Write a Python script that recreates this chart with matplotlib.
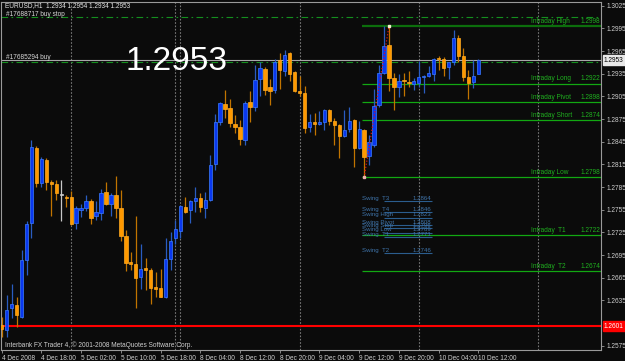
import matplotlib
matplotlib.use("Agg")
import matplotlib.pyplot as plt
import matplotlib.transforms as mtransforms
from matplotlib import font_manager
import numpy as np

# ---------------- data ----------------
opens = [1.2603, 1.2596, 1.2625, 1.2629, 1.2613, 1.2688, 1.2737, 1.2836, 1.2790, 1.2821,
         1.2791, 1.2789, 1.2775, 1.2772, 1.2772, 1.2738, 1.2755, 1.2757, 1.2767, 1.2746,
         1.2751, 1.2778, 1.2762, 1.2774, 1.2757, 1.2720, 1.2686, 1.2683, 1.2666, 1.2678,
         1.2675, 1.2653, 1.2651, 1.2639, 1.2690, 1.2718, 1.2727, 1.2759, 1.2754, 1.2767,
         1.2771, 1.2757, 1.2768, 1.2815, 1.2871, 1.2895, 1.2889, 1.2869, 1.2865, 1.2847,
         1.2898, 1.2891, 1.2928, 1.2941, 1.2917, 1.2914, 1.2953, 1.2939, 1.2963, 1.2937,
         1.2912, 1.2910, 1.2864, 1.2871, 1.2868, 1.2871, 1.2887, 1.2872, 1.2867, 1.2853,
         1.2862, 1.2874, 1.2836, 1.2860, 1.2826, 1.2841, 1.2894, 1.2936, 1.2973, 1.2929,
         1.2918, 1.2927, 1.2924, 1.2921, 1.2923, 1.2930, 1.2932, 1.2935, 1.2955, 1.2955,
         1.2944, 1.2950, 1.2982, 1.2958, 1.2931, 1.2924, 1.2934]
highs = [1.2613, 1.2642, 1.2657, 1.2640, 1.2701, 1.2740, 1.2847, 1.2839, 1.2825, 1.2824,
         1.2794, 1.2794, 1.2794, 1.2774, 1.2780, 1.2760, 1.2763, 1.2774, 1.2769, 1.2766,
         1.2782, 1.2791, 1.2777, 1.2799, 1.2781, 1.2728, 1.2699, 1.2746, 1.2710, 1.2691,
         1.2678, 1.2672, 1.2677, 1.2717, 1.2726, 1.2741, 1.2761, 1.2772, 1.2768, 1.2785,
         1.2777, 1.2778, 1.2828, 1.2881, 1.2898, 1.2914, 1.2902, 1.2880, 1.2874, 1.2899,
         1.2912, 1.2947, 1.2951, 1.2944, 1.2928, 1.2955, 1.2963, 1.2966, 1.2964, 1.2938,
         1.2932, 1.2919, 1.2882, 1.2883, 1.2885, 1.2888, 1.2888, 1.2877, 1.2869, 1.2887,
         1.2891, 1.2875, 1.2873, 1.2862, 1.2854, 1.2915, 1.2947, 1.2998, 1.2998, 1.2936,
         1.2934, 1.2936, 1.2938, 1.2929, 1.2952, 1.2933, 1.2945, 1.2956, 1.2958, 1.2957,
         1.2951, 1.2993, 1.2986, 1.2969, 1.2940, 1.2953, 1.2954]
lows = [1.2587, 1.2587, 1.2612, 1.2600, 1.2612, 1.2669, 1.2717, 1.2785, 1.2785, 1.2781,
        1.2746, 1.2768, 1.2740, 1.2758, 1.2735, 1.2730, 1.2745, 1.2753, 1.2736, 1.2742,
        1.2742, 1.2761, 1.2747, 1.2744, 1.2714, 1.2674, 1.2675, 1.2625, 1.2650, 1.2649,
        1.2630, 1.2639, 1.2639, 1.2638, 1.2675, 1.2710, 1.2718, 1.2750, 1.2738, 1.2752,
        1.2752, 1.2744, 1.2767, 1.2808, 1.2867, 1.2877, 1.2864, 1.2857, 1.2841, 1.2841,
        1.2871, 1.2885, 1.2905, 1.2907, 1.2894, 1.2910, 1.2915, 1.2932, 1.2926, 1.2911,
        1.2905, 1.2857, 1.2858, 1.2854, 1.2867, 1.2860, 1.2867, 1.2841, 1.2824, 1.2851,
        1.2858, 1.2811, 1.2835, 1.2798, 1.2814, 1.2838, 1.2891, 1.2934, 1.2912, 1.2887,
        1.2904, 1.2905, 1.2918, 1.2913, 1.2917, 1.2910, 1.2931, 1.2926, 1.2940, 1.2932,
        1.2928, 1.2947, 1.2951, 1.2925, 1.2902, 1.2916, 1.2934]
closes = [1.2597, 1.2622, 1.2630, 1.2615, 1.2689, 1.2736, 1.2838, 1.2790, 1.2822, 1.2792,
          1.2789, 1.2777, 1.2775, 1.2770, 1.2736, 1.2757, 1.2757, 1.2766, 1.2744, 1.2752,
          1.2777, 1.2763, 1.2774, 1.2757, 1.2720, 1.2685, 1.2683, 1.2665, 1.2677, 1.2675,
          1.2652, 1.2650, 1.2639, 1.2690, 1.2714, 1.2729, 1.2760, 1.2752, 1.2767, 1.2771,
          1.2758, 1.2768, 1.2814, 1.2871, 1.2896, 1.2888, 1.2870, 1.2864, 1.2848, 1.2896,
          1.2891, 1.2927, 1.2942, 1.2914, 1.2912, 1.2951, 1.2940, 1.2960, 1.2935, 1.2912,
          1.2910, 1.2863, 1.2871, 1.2868, 1.2871, 1.2887, 1.2873, 1.2867, 1.2853, 1.2860,
          1.2872, 1.2836, 1.2862, 1.2825, 1.2844, 1.2892, 1.2936, 1.2972, 1.2929, 1.2917,
          1.2926, 1.2925, 1.2923, 1.2926, 1.2930, 1.2932, 1.2936, 1.2955, 1.2954, 1.2943,
          1.2950, 1.2982, 1.2958, 1.2931, 1.2923, 1.2932, 1.2953]

time_tick_bars = [0, 8, 16, 24, 32, 40, 48, 56, 64, 72, 80, 88, 96]
time_tick_labels = ["4 Dec 2008", "4 Dec 18:00", "5 Dec 02:00", "5 Dec 10:00", "5 Dec 18:00",
                    "8 Dec 04:00", "8 Dec 12:00", "8 Dec 20:00", "9 Dec 04:00", "9 Dec 12:00",
                    "9 Dec 20:00", "10 Dec 04:00", "10 Dec 12:00"]
price_ticks = [1.3025, 1.2995, 1.2965, 1.2935, 1.2905, 1.2875, 1.2845, 1.2815, 1.2785,
               1.2755, 1.2725, 1.2695, 1.2665, 1.2635, 1.2575]
separator_bars = [14, 35, 36, 60, 84, 108]

level_names = ["Intraday High", "Intraday Long", "Intraday Pivot", "Intraday Short",
               "Intraday Low", "Intraday  T1", "Intraday  T2"]
level_values = [1.2998, 1.2922, 1.2898, 1.2874, 1.2798, 1.2722, 1.2674]

swing_names = ["Swing  T3", "Swing  T4", "Swing High", "Swing Pivot", "Swing Stop",
               "Swing Low", "Swing  T1", "Swing  T2"]
swing_values = ["1.2864", "1.2846", "1.2823", "1.2808", "1.2796", "1.2789", "1.2771", "1.2746"]
swing_y = [1.2767, 1.2752, 1.2745, 1.2735, 1.2731, 1.2725, 1.2719, 1.2698]

bid = 1.2953
buy_stop = 1.30105
buy_price = 1.2950
red_level = 1.2601
zig_bars = [73, 78]
zig_prices = [1.2798, 1.2998]

# ---------------- fonts ----------------
available = {f.name for f in font_manager.fontManager.ttflist}
if "Liberation Sans Narrow" in available:
    SMALL = "Liberation Sans Narrow"
    SZ = 5.6
else:
    SMALL = "Liberation Sans"
    SZ = 4.7

# ---------------- figure ----------------
BG = "#0b0b0b"
fig = plt.figure(figsize=(6.25, 3.61), dpi=100, facecolor=BG)
ax = fig.add_axes([1.5 / 625, 1 - 350 / 361, (601 - 1.5) / 625, (350 - 2) / 361])
ax.set_facecolor(BG)
ax.set_xlim(-0.04, 120.7)
ax.set_ylim(1.25693, 1.30299)

for s in ax.spines.values():
    s.set_color("#9a9a9a")
    s.set_linewidth(0.8)

# period separators
for b in separator_bars:
    ax.axvline(b, color="#777777", lw=0.8, ls=(0, (1.5, 1.5)), zorder=1)

# order lines
ax.axhline(buy_stop, color="#14901e", lw=0.8, ls=(0, (6, 3, 1.5, 3)), zorder=1)
ax.axhline(bid, color="#a8a8a8", lw=0.8, zorder=1)
ax.axhline(buy_price, color="#14901e", lw=0.8, ls=(0, (6, 3, 1.5, 3)), zorder=1)
ax.axhline(red_level, color="#ff0000", lw=1.5, zorder=2)

# intraday levels
for name, v in zip(level_names, level_values):
    col = "#0c6e0c" if name == "Intraday High" else "#12a812"
    lw = 1.6 if name == "Intraday High" else 0.9
    ax.hlines(v, 72.6, 120.7, color=col, lw=lw, zorder=2)
    ax.annotate(name, xy=(106.6, v), xytext=(0, 0.8), textcoords="offset points",
                color="#1fb01f", fontsize=SZ, family=SMALL, va="bottom", ha="left", zorder=3)
    ax.annotate(f"{v:.4f}", xy=(120.5, v), xytext=(0, 0.8), textcoords="offset points",
                color="#1fb01f", fontsize=SZ, family=SMALL, va="bottom", ha="right", zorder=3)

# swing labels (overlapping stack as in the source terminal)
for name, val, y in zip(swing_names, swing_values, swing_y):
    ax.text(72.6, y, name, color="#3f74aa", fontsize=SZ - 0.3, family=SMALL,
            va="bottom", ha="left", zorder=3)
    ax.text(86.5, y, val, color="#3f74aa", fontsize=SZ - 0.3, family=SMALL,
            va="bottom", ha="right", zorder=3)
    ax.hlines(y - 0.00005, 77.0, 86.7, color="#2b5d8e", lw=0.8, zorder=3)

# candles
o = np.array(opens); h = np.array(highs); l = np.array(lows); c = np.array(closes)
x = np.arange(len(o))
bull = c > o
bear = c < o
doji = c == o
wick_col = np.where(bull, "#2a5cc0", np.where(bear, "#c27400", "#c8c8c8"))
ax.vlines(x, l, h, colors=wick_col, lw=0.9, zorder=4)
minh = 0.00013
bottoms = np.minimum(o, c)
heights = np.abs(c - o)
small = heights < minh
bottoms = np.where(small, (o + c) / 2 - minh / 2, bottoms)
heights = np.where(small, minh, heights)
ax.bar(x[bull], heights[bull], bottom=bottoms[bull], width=0.68, color="#0a38f0",
       edgecolor="#3c7cff", lw=0.5, zorder=5)
ax.bar(x[bear], heights[bear], bottom=bottoms[bear], width=0.68, color="#ff9900",
       edgecolor="#ffaa22", lw=0.5, zorder=5)
ax.bar(x[doji], heights[doji], bottom=bottoms[doji], width=0.68, color="#d0d0d0",
       edgecolor="#d0d0d0", lw=0.5, zorder=5)

# zigzag
ax.plot(zig_bars, zig_prices, color="#dd1111", lw=0.9, ls=(0, (1, 1.5)), zorder=6)
ax.plot(zig_bars[0], zig_prices[0], marker="s", ms=2, color="#f0b0b0", zorder=7)
ax.plot(zig_bars[1], zig_prices[1], marker="s", ms=2, color="#f0f0d0", zorder=7)

# axes ticks
ax.yaxis.tick_right()
ax.set_yticks(price_ticks)
ax.set_yticklabels([f"{p:.4f}" for p in price_ticks], family=SMALL)
ax.tick_params(axis="y", colors="#9a9a9a", labelcolor="#cfcfcf", labelsize=SZ, length=2.5,
               width=0.6, pad=1.5)
ax.set_xticks(time_tick_bars)
ax.set_xticklabels(time_tick_labels, family=SMALL)
ax.tick_params(axis="x", colors="#9a9a9a", labelcolor="#cfcfcf", labelsize=SZ, length=2.5,
               width=0.6, pad=1.2)
for t in ax.get_xticklabels():
    t.set_ha("left")

ytr = mtransforms.blended_transform_factory(ax.transAxes, ax.transData)
ax.text(1.0045, bid, f"{bid:.4f}", transform=ytr, fontsize=SZ, family=SMALL, color="#000000",
        va="center", ha="left", clip_on=False, zorder=10,
        bbox=dict(boxstyle="square,pad=0.18", fc="#e8e8e8", ec="#e8e8e8"))
ax.text(1.0045, red_level, f"{red_level:.4f}", transform=ytr, fontsize=SZ, family=SMALL,
        color="#ffffff", va="center", ha="left", clip_on=False, zorder=10,
        bbox=dict(boxstyle="square,pad=0.18", fc="#ff0000", ec="#ff0000"))

# texts
fig.text(5 / 625, 1 - 5.5 / 361, "EURUSD,H1  1.2934 1.2954 1.2934 1.2953", color="#e6e6e6",
         fontsize=SZ, family=SMALL, va="center", ha="left")
ax.annotate("#17688717 buy stop", xy=(0.9, buy_stop), xytext=(0, 0.6),
            textcoords="offset points", color="#d8d8d8", fontsize=SZ, family=SMALL,
            va="baseline", ha="left")
ax.annotate("#17685294 buy", xy=(0.9, bid), xytext=(0, 0.6),
            textcoords="offset points", color="#d8d8d8", fontsize=SZ, family=SMALL,
            va="baseline", ha="left")
fig.text(177 / 625, 1 - 70 / 361, f"{bid:.4f}", color="#ffffff", fontsize=24,
         family="Liberation Sans", ha="center", va="baseline")
fig.text(5 / 625, 1 - 345 / 361, "Interbank FX Trader 4, \u00a9 2001-2008 MetaQuotes Software Corp.",
         color="#d0d0d0", fontsize=SZ, family=SMALL, va="center", ha="left")

fig.savefig("out.png", dpi=100, facecolor=BG)
